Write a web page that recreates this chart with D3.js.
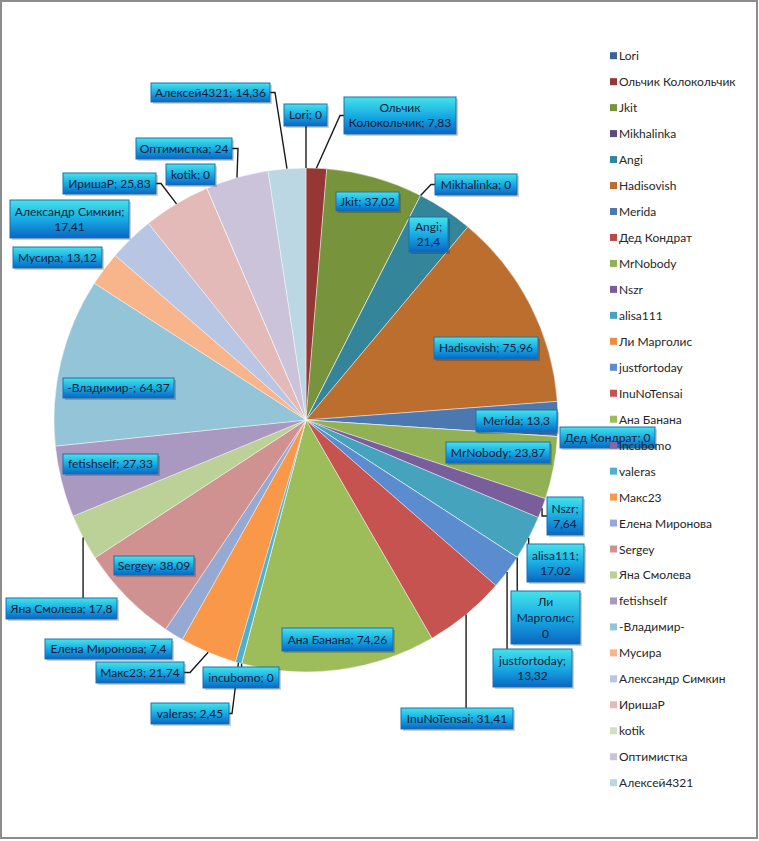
<!DOCTYPE html>
<html>
<head>
<meta charset="utf-8">
<script src="https://cdn.jsdelivr.net/npm/d3@7"></script>
<style>
  body { margin: 0; background: #fff; }
  svg { display: block; font-family: Lato, "Noto Sans", sans-serif; }
</style>
</head>
<body>
<svg id="chart" width="759" height="841"></svg>
<script>
// Data
const names = ["Lori", "Ольчик Колокольчик", "Jkit", "Mikhalinka", "Angi", "Hadisovish", "Merida",
  "Дед Кондрат", "MrNobody", "Nszr", "alisa111", "Ли Марголис", "justfortoday", "InuNoTensai",
  "Ана Банана", "incubomo", "valeras", "Макс23", "Елена Миронова", "Sergey", "Яна Смолева",
  "fetishself", "-Владимир-", "Мусира", "Александр Симкин", "ИришаР", "kotik", "Оптимистка", "Алексей4321"]
const values = [0, 7.83, 37.02, 0, 21.4, 75.96, 13.3, 0, 23.87, 7.64, 17.02, 0, 13.32, 31.41,
  74.26, 0, 2.45, 21.74, 7.4, 38.09, 17.8, 27.33, 64.37, 13.12, 17.41, 25.83, 0, 24, 14.36]

// excel style palette, 5 shades of the 6 accents
const colors = ["#3d6192", "#953735", "#77933c", "#604a7b", "#34849a", "#bc6e2f",
  "#4c78b0", "#ba4a47", "#92b054", "#7a5e9b", "#45a3bd", "#ec8e41",
  "#5b8cd0", "#c65350", "#9cbd59", "#8466a8", "#4eb1cc", "#f89848",
  "#96a9d3", "#d09291", "#bbd197", "#a999c1", "#94c4d8", "#f8b48a",
  "#b8c6e3", "#e4bab8", "#d4e0c1", "#cbc3da", "#bad7e3"]

// callout box placement (one per slice), side = where the leader leaves the box
const boxes = [
  {x: 284, y: 104, w: 43, h: 22, side: "bottom"},
  {x: 344, y: 97, w: 112, h: 37, side: "left", elbow: 4},
  {x: 336, y: 192, w: 63, h: 19},
  {x: 435, y: 174, w: 82, h: 21, side: "left", elbow: 4},
  {x: 409, y: 217, w: 39, h: 35},
  {x: 434, y: 337, w: 104, h: 22},
  {x: 476, y: 410, w: 81, h: 22},
  {x: 560, y: 427, w: 95, h: 21},
  {x: 446, y: 442, w: 104, h: 21},
  {x: 547, y: 497, w: 36, h: 38, side: "left"},
  {x: 527, y: 544, w: 57, h: 38, side: "top"},
  {x: 511, y: 591, w: 69, h: 53, side: "top"},
  {x: 493, y: 649, w: 79, h: 38, side: "top"},
  {x: 401, y: 708, w: 112, h: 21, side: "top"},
  {x: 282, y: 628, w: 111, h: 23},
  {x: 203, y: 667, w: 76, h: 21, side: "top"},
  {x: 151, y: 703, w: 78, h: 21, side: "right", elbow: 3},
  {x: 96, y: 662, w: 88, h: 21, side: "right", elbow: 6},
  {x: 45, y: 639, w: 127, h: 20},
  {x: 114, y: 556, w: 80, h: 19},
  {x: 6, y: 598, w: 111, h: 21, side: "top"},
  {x: 63, y: 454, w: 95, h: 20},
  {x: 63, y: 378, w: 111, h: 20},
  {x: 13, y: 247, w: 89, h: 21},
  {x: 10, y: 200, w: 119, h: 38},
  {x: 63, y: 173, w: 93, h: 21, side: "right", elbow: 5},
  {x: 166, y: 164, w: 49, h: 21},
  {x: 136, y: 138, w: 96, h: 21, side: "right", elbow: 6},
  {x: 151, y: 83, w: 119, h: 19, side: "right", elbow: 5}
]

const cx = 306, cy = 420, R = 252

const svg = d3.select("#chart")

// outer frame
svg.append("rect").attr("x", 1).attr("y", 1).attr("width", 756).attr("height", 837)
  .attr("fill", "#fff").attr("stroke", "#8c8c8c").attr("stroke-width", 2)

const defs = svg.append("defs")
const grad = defs.append("linearGradient").attr("id", "boxfill")
  .attr("x1", 0).attr("y1", 0).attr("x2", 0).attr("y2", 1)
grad.append("stop").attr("offset", "0%").attr("stop-color", "#45e3ea")
grad.append("stop").attr("offset", "50%").attr("stop-color", "#18ace4")
grad.append("stop").attr("offset", "100%").attr("stop-color", "#0a66c2")

const pie = d3.pie().sort(null).value(d => d)
const arcs = pie(values)
const arc = d3.arc().innerRadius(0).outerRadius(R)
const edge = d3.arc().innerRadius(R).outerRadius(R)

const g = svg.append("g").attr("transform", `translate(${cx},${cy})`)
g.selectAll("path")
  .data(arcs)
  .enter()
  .append("path")
  .attr("d", arc)
  .attr("fill", (d, i) => colors[i])
  .attr("stroke", "#fff")
  .attr("stroke-width", 0.6)
  .attr("stroke-opacity", 0.7)

// leader lines
const leaders = svg.append("g")
arcs.forEach((d, i) => {
  const b = boxes[i]
  if (!b.side) return
  const p = edge.centroid(d)
  const px = p[0] + cx, py = p[1] + cy
  let pts
  if (b.side == "top") pts = [[px, b.y], [px, py]]
  else if (b.side == "bottom") pts = [[px, b.y + b.h], [px, py]]
  else {
    const sx = b.side == "left" ? b.x : b.x + b.w
    const sy = b.y + b.h / 2
    const ex = b.elbow ? (b.side == "left" ? sx - b.elbow : sx + b.elbow) : px
    pts = [[sx, sy], [ex, sy], [px, py]]
  }
  leaders.append("path")
    .attr("d", d3.line()(pts))
    .attr("fill", "none")
    .attr("stroke", "#1a1a1a")
    .attr("stroke-width", 1.4)
})

// callout boxes
const fmt = v => String(v).replace(".", ",")
const labels = svg.append("g")
arcs.forEach((d, i) => {
  const b = boxes[i]
  const lg = labels.append("g")
  lg.append("rect").attr("x", b.x + 2).attr("y", b.y + 2).attr("width", b.w).attr("height", b.h)
    .attr("fill", "#000").attr("opacity", 0.18)
  lg.append("rect").attr("x", b.x).attr("y", b.y).attr("width", b.w).attr("height", b.h)
    .attr("fill", "url(#boxfill)").attr("stroke", "#1f6fae").attr("stroke-width", 1)

  // greedy wrap words to the box width
  const words = (names[i] + "; " + fmt(values[i])).split(" ")
  const probe = lg.append("text").attr("font-size", 12)
  const lines = []
  let cur = ""
  words.forEach(w => {
    const test = cur ? cur + " " + w : w
    probe.text(test)
    if (cur && probe.node().getComputedTextLength() > b.w - 6) {
      lines.push(cur)
      cur = w
    } else cur = test
  })
  lines.push(cur)
  probe.remove()

  const lh = lines.length > 2 ? 16 : 15
  const t = lg.append("text")
    .attr("text-anchor", "middle")
    .attr("font-size", 12)
    .attr("fill", "#0e1c38")
  lines.forEach((ln, k) => {
    t.append("tspan")
      .attr("x", b.x + b.w / 2)
      .attr("y", b.y + b.h / 2 + (k - (lines.length - 1) / 2) * lh + 4)
      .text(ln)
  })
})

// legend
const ly = d3.scalePoint().domain(names).range([55.7, 782.7])
const legend = svg.append("g")
names.forEach((n, i) => {
  legend.append("rect")
    .attr("x", 610).attr("y", ly(n) - 3.5).attr("width", 7).attr("height", 7)
    .attr("fill", colors[i])
  legend.append("text")
    .attr("x", 619).attr("y", ly(n) + 4.5)
    .attr("font-size", 12)
    .attr("fill", "#262626")
    .text(n)
})
</script>
</body>
</html>
